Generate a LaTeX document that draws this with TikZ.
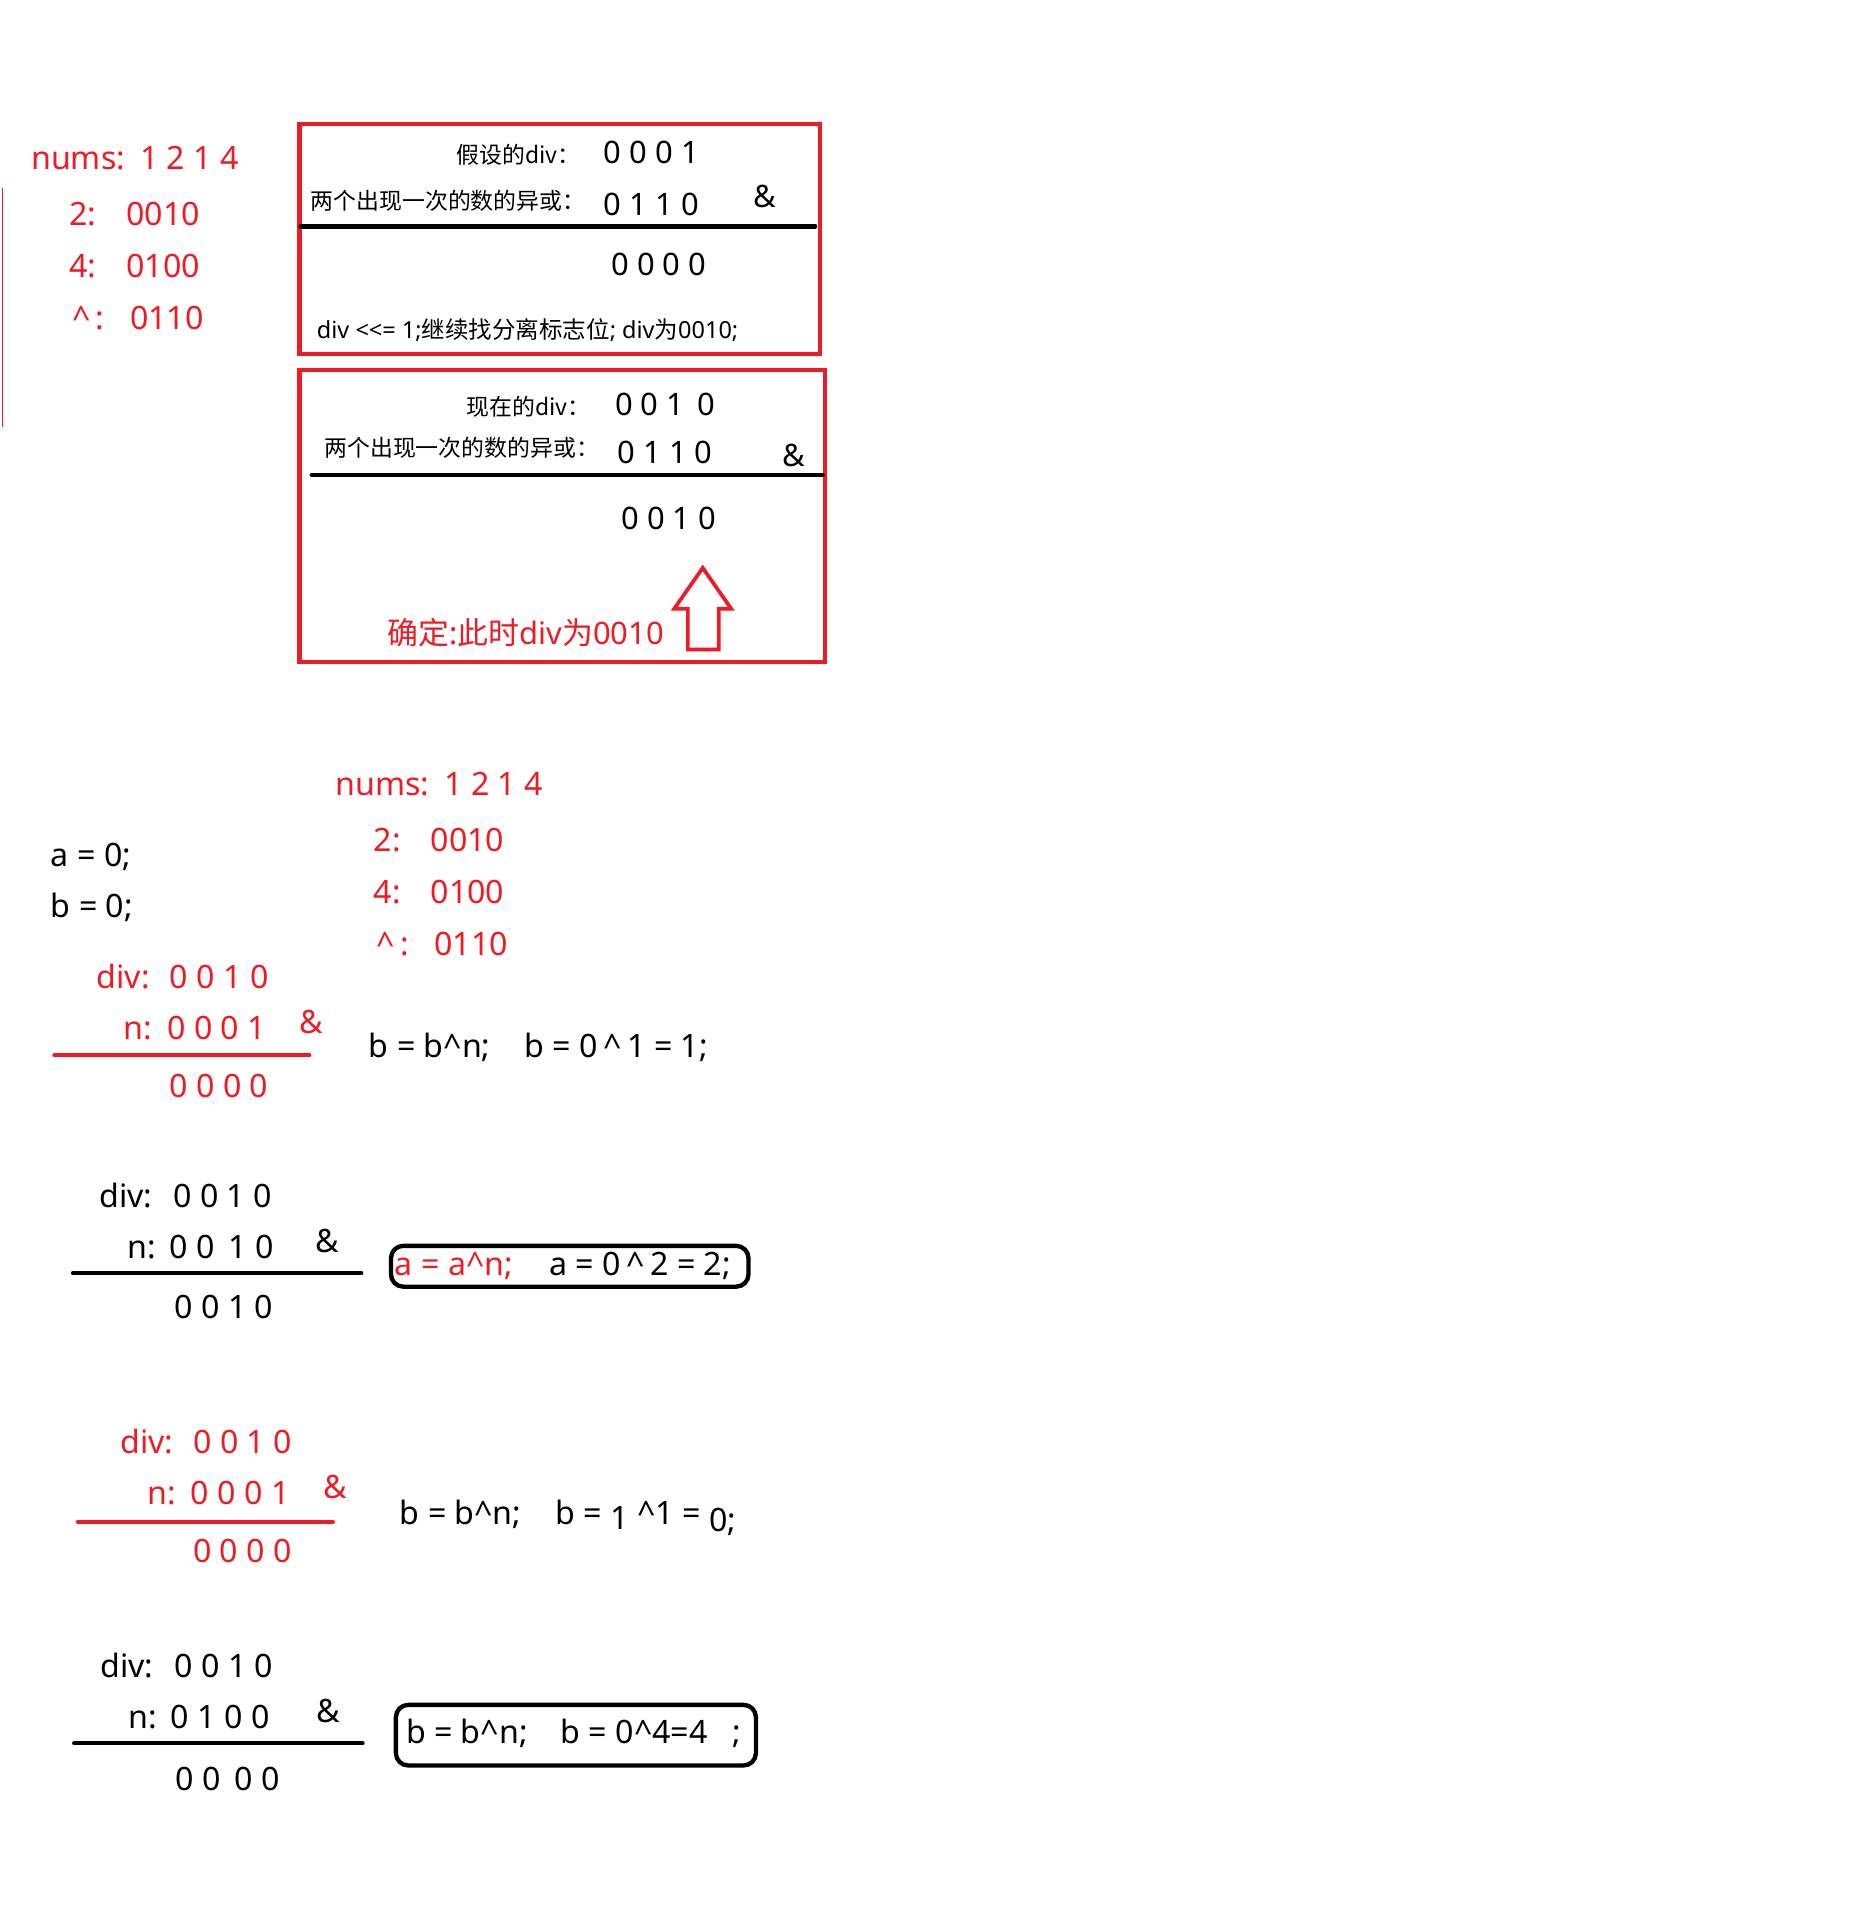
\documentclass[tikz,border=0pt]{standalone}
\usepackage{fontspec}
\setmainfont{Noto Sans}
\newfontfamily\cjk{Noto Sans CJK SC}
\definecolor{pred}{RGB}{237,28,36}
\newcommand\szA{\fontsize{26}{30}\selectfont}
\newcommand\szB{\fontsize{25}{29}\selectfont}
\newcommand\szS{\fontsize{18.5}{22}\selectfont}
\newcommand\szD{\fontsize{19}{22}\selectfont}
\newcommand\szC{\fontsize{25}{29}\selectfont}
\newcommand\crt{\textasciicircum}
\newcommand\lw[2]{\makebox[#1pt][l]{#2}}
\begin{document}
\begin{tikzpicture}[x=1pt,y=-1pt,
  txt/.style={inner sep=0pt, anchor=base west, font=\szA},
  rtxt/.style={txt, text=pred},
  lbl/.style={inner sep=0pt, anchor=base west, font=\szS\cjk},
  bdig/.style={txt, font=\szB},
  redbox/.style={draw=pred, line width=3.5pt},
  rule/.style={line width=3.5pt, line cap=round},
  eqbox/.style={line width=3.5pt, rounded corners=10pt}]
\useasboundingbox (0,0) rectangle (1500,1560);

% ---- top left (red)
\draw[pred, line width=1.5pt] (2,152) -- (2,345);
\node[rtxt] (tn) at (25,137) {\lw{88}{nums:}1 2 1 4};
\node[rtxt] (t2) at (56,182) {\lw{46}{2:}0010};
\node[rtxt] (t4) at (56,224) {\lw{46}{4:}0100};
\node[rtxt] (tx) at (58,266) {\lw{47}{\crt\,:}0110};

% ---- box 1
\draw[redbox] (242,100) rectangle (663,286);
\node[lbl] (b1l1) at (369,132) {假设的div：};
\node[bdig] (b1d1) at (488,132) {0 0 0 1};
\node[lbl] (b1l2) at (251,169) {两个出现一次的数的异或：};
\node[bdig] (b1d2) at (488,174) {0 1 1 0};
\node[bdig] (b1amp) at (609,168) {\&};
\draw[rule] (243,183) -- (659,183);
\node[bdig] (b1r) at (494,223) {0 0 0 0};
\node[inner sep=0pt, anchor=base west, font=\szD] (b1note) at (256,274)
  {div <{}<= 1;{\cjk 继续找分离标志位}; div{\cjk 为}0010;};

% ---- box 2
\draw[redbox] (242,299) rectangle (667,535);
\node[lbl] (b2l1) at (377,336) {现在的div：};
\node[bdig] (b2d1) at (497,336) {0 0 1\, 0};
\node[lbl] (b2l2) at (262,369) {两个出现一次的数的异或：};
\node[bdig] (b2d2) at (499,375) {0 1 1 0};
\node[bdig] (b2amp) at (632,377) {\&};
\draw[rule] (252,384) -- (665,384);
\node[bdig] (b2r) at (502,428) {0 0 1 0};
\draw[pred, line width=3pt, line join=miter]
  (568,459) -- (591,492) -- (581,492) -- (581,525) -- (556,525) -- (556,492) -- (545,492) -- cycle;
\node[inner sep=0pt, anchor=base west, font=\szC, text=pred] (b2note) at (313,521)
  {{\cjk 确定}:{\cjk 此时}div{\cjk 为}0010};

% ---- middle
\node[rtxt] (mn) at (271,643) {\lw{88}{nums:}1 2 1 4};
\node[rtxt] (m2) at (302,688) {\lw{46}{2:}0010};
\node[rtxt] (m4) at (302,730) {\lw{46}{4:}0100};
\node[rtxt] (mx) at (304,772) {\lw{47}{\crt\,:}0110};
\node[txt] (ia) at (41,700) {a = 0;};
\node[txt] (ib) at (41,742) {b = 0;};

% ---- group 1 (red)
\node[rtxt] (g1a) at (78,799) {\lw{59}{div:}0 0 1 0};
\node[rtxt] (g1b) at (100,840) {\lw{35}{n:}0 0 0 1};
\node[rtxt] (g1amp) at (242,835) {\&};
\draw[rule, pred] (44,853) -- (250,853);
\node[rtxt] (g1r) at (137,887) {0 0 0 0};
\node[txt] (g1e1) at (298,855) {b = b\crt n;};
\node[txt] (g1e2) at (424,855) {b = 0\,\crt\,1 = 1;};

% ---- group 2 (black)
\node[txt] (g2a) at (80,976) {\lw{60}{div:}0 0 1 0};
\node[txt] (g2b) at (103,1017) {\lw{34}{n:}0 0\, 1 0};
\node[txt] (g2amp) at (255,1012) {\&};
\draw[rule] (59,1029) -- (292,1029);
\node[txt] (g2r) at (141,1066) {0 0 1 0};
\draw[eqbox] (316,1007) rectangle (605,1040);
\node[rtxt] (g2e1) at (319,1031) {a = a\crt n;};
\node[txt] (g2e2) at (444,1031) {a = 0\,\crt\,2 = 2;};

% ---- group 3 (red)
\node[rtxt] (g3a) at (97,1175) {\lw{59}{div:}0 0 1 0};
\node[rtxt] (g3b) at (119,1216) {\lw{35}{n:}0 0 0 1};
\node[rtxt] (g3amp) at (261,1211) {\&};
\draw[rule, pred] (63,1230) -- (269,1230);
\node[rtxt] (g3r) at (156,1263) {0 0 0 0};
\node[txt] (g3e1) at (323,1232) {b = b\crt n;};
\node[txt] (g3e2) at (449,1232) {b = \raisebox{-4pt}{1} \crt 1 = \raisebox{-6pt}{0;}};

% ---- group 4 (black)
\node[txt] (g4a) at (81,1356) {\lw{60}{div:}0 0 1 0};
\node[txt] (g4b) at (104,1397) {\lw{34}{n:}0 1 0 0};
\node[txt] (g4amp) at (256,1392) {\&};
\draw[rule] (60,1409) -- (293,1409);
\node[txt] (g4r) at (142,1447) {0 0\, 0 0};
\draw[eqbox] (320,1378) rectangle (611,1427);
\node[txt] (g4e1) at (328,1409) {b = b\crt n;};
\node[txt] (g4e2) at (453,1409) {b = 0\crt 4=4\ \ \ ;};
\end{tikzpicture}
\end{document}
